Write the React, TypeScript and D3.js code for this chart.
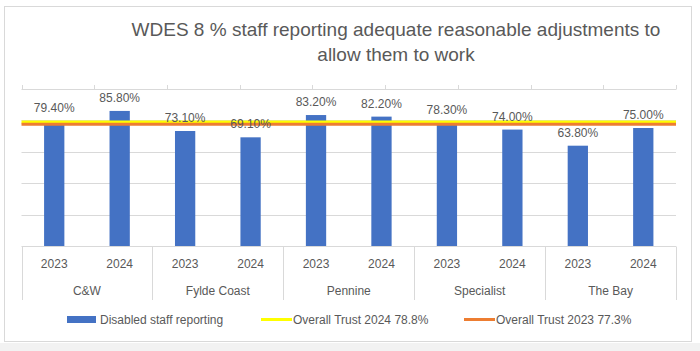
import * as d3 from "d3";

// chart values
const groups = ["C&W", "Fylde Coast", "Pennine", "Specialist", "The Bay"];
const years = ["2023", "2024"];
const disabledStaff = [79.4, 85.8, 73.1, 69.1, 83.2, 82.2, 78.3, 74.0, 63.8, 75.0];
const trust2024 = [78.8, 78.8, 78.8, 78.8, 78.8, 78.8, 78.8, 78.8, 78.8, 78.8];
const trust2023 = [77.3, 77.3, 77.3, 77.3, 77.3, 77.3, 77.3, 77.3, 77.3, 77.3];
const yTicks = [0, 20, 40, 60, 80, 100];
const titleLines = [
  "WDES 8 % staff reporting adequate reasonable adjustments to",
  "allow them to work",
];
const legendItems = [
  { label: "Disabled staff reporting", kind: "bar", color: "#4472C4" },
  { label: "Overall Trust 2024 78.8%", kind: "line", color: "#FFFF00" },
  { label: "Overall Trust 2023 77.3%", kind: "line", color: "#ED7D31" },
];

const width = 700;
const height = 351;
const plot = { left: 21.5, right: 676, top: 88.5, bottom: 246.5 };
const font = "'Liberation Sans', Arial, sans-serif";
const textColor = "#595959";
const gridColor = "#d9d9d9";

const App = () => {
  const cats = groups.flatMap((g) => years.map((yr) => `${g}|${yr}`));

  const x = d3
    .scaleBand()
    .domain(cats)
    .range([plot.left, plot.right])
    .paddingInner(0.69)
    .paddingOuter(0.345);

  // secondary category axis used by the two line series
  const xLine = d3.scalePoint().domain(cats).range([plot.left, plot.right]);

  const y = d3.scaleLinear().domain([0, 100]).range([plot.bottom, plot.top]);

  const line = d3
    .line<number>()
    .x((_, i) => xLine(cats[i]) as number)
    .y((d) => y(d));

  const step = x.step();
  const groupEdges = d3.range(groups.length + 1).map((i) => plot.left + i * 2 * step);
  const legendX = [67, 261, 464];

  return (
    <div style={{ position: "absolute", left: 0, top: 0 }}>
      <svg width={width} height={height} style={{ display: "block", fontFamily: font }}>
        <rect x={0} y={0} width={width} height={height} fill="#ffffff" />
        <rect x={0} y={343} width={width} height={8} fill="#f2f2f2" />
        <rect x={4.5} y={6.5} width={687} height={335} fill="#ffffff" stroke={gridColor} />

        {titleLines.map((t, i) => (
          <text
            key={t}
            x={396}
            y={36 + i * 25}
            textAnchor="middle"
            fontSize={19}
            fill={textColor}
          >
            {t}
          </text>
        ))}

        {/* gridlines */}
        {yTicks.slice(1).map((t) => (
          <line
            key={t}
            x1={plot.left}
            x2={plot.right}
            y1={Math.round(y(t)) + 0.5}
            y2={Math.round(y(t)) + 0.5}
            stroke={gridColor}
          />
        ))}
        {/* tick marks of the secondary axis at the top */}
        {cats.map((c) => (
          <line
            key={c}
            x1={Math.round(xLine(c) as number) + 0.5}
            x2={Math.round(xLine(c) as number) + 0.5}
            y1={Math.round(plot.top) + 0.5}
            y2={Math.round(plot.top) - 4}
            stroke={gridColor}
          />
        ))}

        {/* bars */}
        {disabledStaff.map((v, i) => (
          <rect
            key={cats[i]}
            x={x(cats[i])}
            y={y(v)}
            width={x.bandwidth()}
            height={y(0) - y(v)}
            fill="#4472C4"
          />
        ))}

        {/* category axis */}
        <line x1={plot.left} x2={plot.right} y1={246.5} y2={246.5} stroke={gridColor} />
        {groupEdges.map((gx) => (
          <line
            key={gx}
            x1={Math.round(gx) + 0.5}
            x2={Math.round(gx) + 0.5}
            y1={246.5}
            y2={300}
            stroke={gridColor}
          />
        ))}
        {cats.map((c) => (
          <text
            key={c}
            x={(x(c) as number) + x.bandwidth() / 2}
            y={268}
            textAnchor="middle"
            fontSize={12}
            fill={textColor}
          >
            {c.split("|")[1]}
          </text>
        ))}
        {groups.map((g, i) => (
          <text
            key={g}
            x={(groupEdges[i] + groupEdges[i + 1]) / 2}
            y={295}
            textAnchor="middle"
            fontSize={12}
            fill={textColor}
          >
            {g}
          </text>
        ))}

        {/* overall trust lines */}
        <path d={line(trust2024) ?? ""} fill="none" stroke="#FFFF00" strokeWidth={3} />
        <path d={line(trust2023) ?? ""} fill="none" stroke="#ED7D31" strokeWidth={3} />

        {/* data labels */}
        {disabledStaff.map((v, i) => (
          <text
            key={cats[i]}
            x={(x(cats[i]) as number) + x.bandwidth() / 2}
            y={y(v) - 9}
            textAnchor="middle"
            fontSize={12}
            fill={textColor}
          >
            {v.toFixed(2)}%
          </text>
        ))}

        {/* legend */}
        {legendItems.map((it, i) =>
          it.kind === "bar" ? (
            <g key={it.label}>
              <rect x={legendX[i]} y={316} width={29} height={7} fill={it.color} />
              <text x={legendX[i] + 33} y={324} fontSize={12} fill={textColor}>
                {it.label}
              </text>
            </g>
          ) : (
            <g key={it.label}>
              <line
                x1={legendX[i]}
                x2={legendX[i] + 31}
                y1={319.5}
                y2={319.5}
                stroke={it.color}
                strokeWidth={3}
              />
              <text x={legendX[i] + 32} y={324} fontSize={12} fill={textColor}>
                {it.label}
              </text>
            </g>
          )
        )}
      </svg>
    </div>
  );
};

export default App;
